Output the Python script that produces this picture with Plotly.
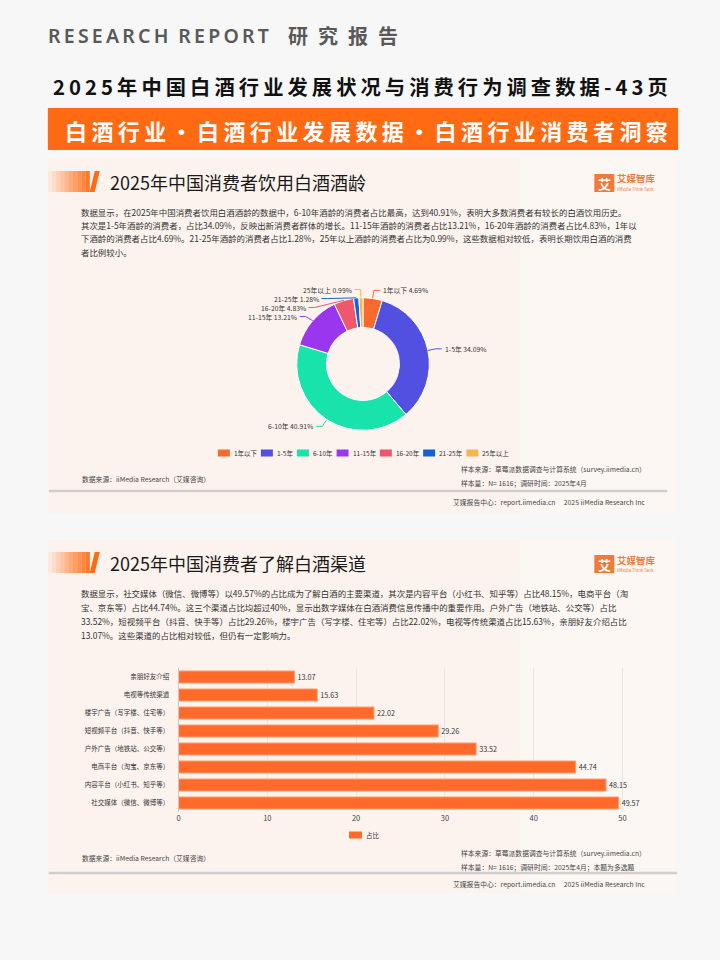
import math
import plotly.graph_objects as go

# ---------------- data ----------------
age_labels = ["1年以下", "1-5年", "6-10年", "11-15年", "16-20年", "21-25年", "25年以上"]
age_values = [4.69, 34.09, 40.91, 13.21, 4.83, 1.28, 0.99]
age_colors = ["#fa6a2d", "#5150e0", "#17e3aa", "#9a37ee", "#f0566c", "#1562d8", "#f8b44e"]

channel_labels = ["亲朋好友介绍", "电视等传统渠道", "楼宇广告（写字楼、住宅等）", "短视频平台（抖音、快手等）",
                  "户外广告（地铁站、公交等）", "电商平台（淘宝、京东等）", "内容平台（小红书、知乎等）", "社交媒体（微信、微博等）"]
channel_values = [13.07, 15.63, 22.02, 29.26, 33.52, 44.74, 48.15, 49.57]
channel_ticks = [0, 10, 20, 30, 40, 50]
bar_series_name = "占比"

W, H = 720, 960
FONT = "Noto Sans CJK SC"
ORANGE = "#ff6a12"


def px(x):
    return x / W


def py(y):
    return 1 - y / H


shapes = []
annotations = []


def text(x, y, s, size, color="#333", anchor="left", weight="normal", family=FONT, yanchor="middle"):
    annotations.append(dict(x=px(x), y=py(y), xref="paper", yref="paper", text=s, showarrow=False,
                            xanchor=anchor, yanchor=yanchor, borderpad=0,
                            font=dict(size=size, color=color, family=family, weight=weight)))


def rect(x0, y0, x1, y1, color, opacity=1.0):
    shapes.append(dict(type="rect", xref="paper", yref="paper", x0=px(x0), x1=px(x1), y0=py(y1), y1=py(y0),
                       fillcolor=color, opacity=opacity, line=dict(width=0), layer="below"))


def spaced(s, sep="\u2009"):
    return sep.join(list(s))


# ---------------- page header ----------------
text(45, 35, spaced("RESEARCH") + "\u2002" + spaced("REPORT"), 19.5, "#595959", weight=600, family="Noto Sans")
text(286, 35, spaced("研究报告", "\u2002"), 20, "#595959", weight="bold")
text(359, 86, spaced("2025年中国白酒行业发展状况与消费行为调查数据-43页"), 20.3, "#111", anchor="center", weight="bold")
rect(46, 108, 678, 150, ORANGE)
text(366, 130, spaced("白酒行业·白酒行业发展数据·白酒行业消费者洞察"), 22, "#ffffff", anchor="center", weight="bold")

# ---------------- panels ----------------
for (top, bottom) in [(157, 513), (540, 893)]:
    rect(46, top, 676, bottom, "#fdf3ee")
    rect(520, top, 676, bottom, "#fefaf8", opacity=0.6)


def panel_header(ytitle, title):
    n = 10
    for i in range(n):
        x0 = 46 + i * 4.2
        rect(x0, ytitle - 11, x0 + 4.3, ytitle + 10, ORANGE, opacity=0.08 + 0.09 * i)
    shapes.append(dict(type="path", xref="paper", yref="paper",
                       path=f"M {px(88)},{py(ytitle + 10)} L {px(93)},{py(ytitle - 11)} L {px(98)},{py(ytitle - 11)} L {px(93)},{py(ytitle + 10)} Z",
                       fillcolor=ORANGE, line=dict(width=0)))
    text(107, ytitle, title, 18, "#1a1a1a")
    rect(594, ytitle - 8, 614, ytitle + 10, "#f07a3a")
    text(604, ytitle + 1, "艾", 13, "#ffffff", anchor="center", weight="bold")
    text(616, ytitle - 3.5, "艾媒智库", 9.5, "#f07a3a", weight="bold")
    text(616, ytitle + 7, "iiMedia Think Tank", 4.2, "#f07a3a")


panel_header(182, "2025年中国消费者饮用白酒酒龄")
panel_header(563, "2025年中国消费者了解白酒渠道")

para1 = [
    "数据显示，在2025年中国消费者饮用白酒酒龄的数据中，6-10年酒龄的消费者占比最高，达到40.91%，表明大多数消费者有较长的白酒饮用历史。",
    "其次是1-5年酒龄的消费者，占比34.09%，反映出新消费者群体的增长。11-15年酒龄的消费者占比13.21%，16-20年酒龄的消费者占比4.83%，1年以",
    "下酒龄的消费者占比4.69%。21-25年酒龄的消费者占比1.28%，25年以上酒龄的消费者占比为0.99%，这些数据相对较低，表明长期饮用白酒的消费",
    "者比例较小。",
]
para2 = [
    "数据显示，社交媒体（微信、微博等）以49.57%的占比成为了解白酒的主要渠道，其次是内容平台（小红书、知乎等）占比48.15%，电商平台（淘",
    "宝、京东等）占比44.74%。这三个渠道占比均超过40%，显示出数字媒体在白酒消费信息传播中的重要作用。户外广告（地铁站、公交等）占比",
    "33.52%，短视频平台（抖音、快手等）占比29.26%，楼宇广告（写字楼、住宅等）占比22.02%，电视等传统渠道占比15.63%，亲朋好友介绍占比",
    "13.07%。这些渠道的占比相对较低，但仍有一定影响力。",
]
for i, line in enumerate(para1):
    text(78, 212 + 13.2 * i, line, 8.45, "#333")
for i, line in enumerate(para2):
    text(78, 593 + 14 * i, line, 8.45, "#333")


def footer(y_src, y_s1, y_line, y_foot, x_line_end, second):
    text(79, y_src, "数据来源：iiMedia Research（艾媒咨询）", 6.8, "#444")
    text(459, y_s1, "样本来源：草莓派数据调查与计算系统（survey.iimedia.cn）", 6.8, "#444")
    text(459, y_s1 + 14, second, 6.8, "#444")
    rect(47, y_line - 1.2, x_line_end, y_line + 1.2, "#cfcfcf")
    text(451, y_foot, "艾媒报告中心：report.iimedia.cn\u2003 2025 iiMedia Research Inc", 6.8, "#444")


footer(479, 469, 491, 502, 667, "样本量：N= 1616；调研时间：2025年4月")
footer(858, 853, 873, 884, 677, "样本量：N= 1616；调研时间：2025年4月；本题为多选题")

# ---------------- donut ----------------
cx, cy, R = 362.0, 364.0, 66.5
fig = go.Figure()
fig.add_trace(go.Pie(
    labels=age_labels, values=age_values, sort=False, direction="clockwise", rotation=0,
    hole=0.55, marker=dict(colors=age_colors, line=dict(color="#ffffff", width=1)),
    textinfo="none", hoverinfo="label+percent", showlegend=False,
    domain=dict(x=[px(cx - R), px(cx + R)], y=[py(cy + R), py(cy - R)]),
))

total = sum(age_values)
L1, L2, GAP = 8.0, 6.0, 2.0
MIN_SEP = 9.0
rr = R + L1
items = []
cum = 0.0
for lab, val, col in zip(age_labels, age_values, age_colors):
    theta = 2 * math.pi * (cum + val / 2) / total
    cum += val
    ex, ey = cx + R * math.sin(theta), cy - R * math.cos(theta)
    bx, by = cx + rr * math.sin(theta), cy - rr * math.cos(theta)
    items.append(dict(lab=lab, val=val, col=col, ex=ex, ey=ey, bx=bx, by=by,
                      side=1 if math.sin(theta) >= 0 else -1))
for side in (1, -1):
    group = sorted([it for it in items if it["side"] == side], key=lambda d: d["by"])
    prev = None
    for it in group:
        y = it["by"]
        if prev is not None and y < prev + MIN_SEP:
            y = prev + MIN_SEP
            dy = y - cy
            if abs(dy) < rr:
                it["bx"] = cx + side * math.sqrt(rr * rr - dy * dy)
        it["by"] = y
        prev = y
for it in items:
    s = it["side"]
    endx = it["bx"] + s * L2
    shapes.append(dict(type="path", xref="paper", yref="paper",
                       path=f"M {px(it['ex'])},{py(it['ey'])} L {px(it['bx'])},{py(it['by'])} L {px(endx)},{py(it['by'])}",
                       line=dict(color=it["col"], width=1)))
    text(endx + s * GAP, it["by"], f"{it['lab']} {it['val']:.2f}%", 6.8, "#333",
         anchor="left" if s > 0 else "right")


def tw(s, size):
    w = 0
    for ch in s:
        w += 1.0 if ord(ch) > 0x2E80 else (0.36 if ch == "-" else 0.56)
    return w * size


LEG_SIZE = 6.5
widths = [12 + 3 + tw(l, LEG_SIZE) for l in age_labels]
total_w = sum(widths) + 5 * (len(widths) - 1)
x = 362 - total_w / 2
for lab, col, w in zip(age_labels, age_colors, widths):
    shapes.append(dict(type="rect", xref="paper", yref="paper", x0=px(x), x1=px(x + 12), y0=py(456.5), y1=py(449.5),
                       fillcolor=col, line=dict(width=0)))
    text(x + 15, 453, lab, LEG_SIZE, "#333")
    x += w + 5

# ---------------- bar chart ----------------
fig.add_trace(go.Bar(
    x=channel_values, y=channel_labels, orientation="h", name=bar_series_name,
    marker=dict(color="#ff6a2a", line=dict(color="#ff9f70", width=1)),
    text=[f"{v:.2f}" for v in channel_values], textposition="outside",
    textfont=dict(size=7.2, color="#333"), cliponaxis=False, showlegend=False,
    xaxis="x", yaxis="y",
))
shapes.append(dict(type="rect", xref="paper", yref="paper", x0=px(348), x1=px(361), y0=py(838.5), y1=py(831.5),
                   fillcolor="#ff6a2a", line=dict(width=0)))
text(364, 835, bar_series_name, LEG_SIZE, "#333")

fig.update_layout(
    width=W, height=H, margin=dict(l=0, r=0, t=0, b=0),
    paper_bgcolor="#f7f7f8", plot_bgcolor="rgba(0,0,0,0)",
    font=dict(family=FONT, color="#333"),
    showlegend=False, bargap=0.33,
    xaxis=dict(domain=[px(177), px(640)], range=[0, 52], tickvals=channel_ticks,
               showgrid=True, gridcolor="#e9e6e4", gridwidth=1, zeroline=False, showline=False,
               tickfont=dict(size=7.5, color="#444"), anchor="y", fixedrange=True),
    yaxis=dict(domain=[py(812), py(668)], autorange="reversed", showgrid=False,
               showline=True, linecolor="#c9c9c9", linewidth=1, ticks="", ticklabelstandoff=7,
               tickfont=dict(size=6.5, color="#333"), anchor="x", fixedrange=True),
    shapes=shapes, annotations=annotations,
)

fig.write_html("out.html", config={"displayModeBar": False},
               post_script="document.body.style.margin='0';document.body.style.overflow='hidden';")
